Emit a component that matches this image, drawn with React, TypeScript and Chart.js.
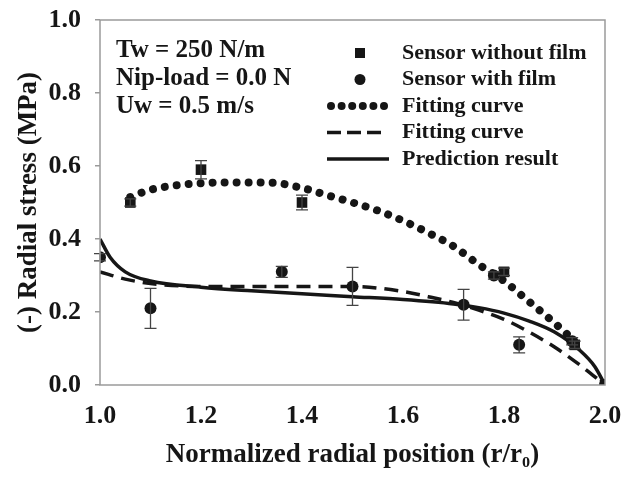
import React, { useEffect, useRef } from "react";
import { Chart, registerables } from "chart.js";
Chart.register(...registerables);

// Sensor without film (squares)
const sqX = [1.06, 1.2, 1.4, 1.8, 1.94, 2.0];
const sqY = [0.50, 0.59, 0.50, 0.31, 0.11, 0.0];
const sqErr = [0.01, 0.025, 0.02, 0.01, 0.01, 0];
// Sensor with film (circles)
const ciX = [1.0, 1.1, 1.36, 1.5, 1.72, 1.78, 1.83, 1.935, 2.0];
const ciY = [0.35, 0.21, 0.31, 0.27, 0.22, 0.30, 0.11, 0.12, 0.0];
const ciErr = [0.01, 0.055, 0.015, 0.052, 0.042, 0.01, 0.022, 0.01, 0];
// Fitting curve (dotted, without film)
const dotX = [1.06, 1.1, 1.15, 1.2, 1.25, 1.3, 1.35, 1.4, 1.45, 1.5, 1.55, 1.6, 1.65, 1.7, 1.75, 1.8, 1.85, 1.9, 1.94];
const dotY = [0.515, 0.535, 0.547, 0.553, 0.555, 0.555, 0.553, 0.54, 0.52, 0.50, 0.478, 0.45, 0.417, 0.38, 0.33, 0.285, 0.228, 0.17, 0.12];
// Fitting curve (dashed, with film)
const dashX = [1.0, 1.05, 1.1, 1.2, 1.3, 1.4, 1.5, 1.6, 1.65, 1.7, 1.75, 1.8, 1.85, 1.9, 1.95, 2.0];
const dashY = [0.31, 0.29, 0.278, 0.27, 0.27, 0.27, 0.27, 0.256, 0.242, 0.226, 0.205, 0.18, 0.145, 0.104, 0.055, 0.0];
// Prediction result (solid)
const predX = [1.0, 1.02, 1.05, 1.1, 1.2, 1.3, 1.4, 1.5, 1.6, 1.7, 1.75, 1.8, 1.85, 1.9, 1.95, 1.98, 2.0];
const predY = [0.40, 0.35, 0.31, 0.285, 0.268, 0.258, 0.25, 0.242, 0.234, 0.222, 0.212, 0.197, 0.175, 0.145, 0.095, 0.05, 0.0];

const annotations = ["Tw = 250 N/m", "Nip-load = 0.0 N", "Uw = 0.5 m/s"];
const legendLabels = ["Sensor without film", "Sensor with film", "Fitting curve", "Fitting curve", "Prediction result"];

const INK = "#161616";
const FRAME = "#9a9a9a";
const SERIF = '"Liberation Serif", "Times New Roman", serif';

const pts = (xs: number[], ys: number[]) => xs.map((x, i) => ({ x, y: ys[i] }));

const errorBarPlugin = {
  id: "errorBars",
  afterDatasetsDraw(chart: any) {
    const { ctx, scales } = chart;
    const xs = scales.x, ys = scales.y;
    ctx.save();
    ctx.strokeStyle = "#444";
    ctx.lineWidth = 1.3;
    const draw = (X: number[], Y: number[], E: number[]) => {
      X.forEach((x, i) => {
        if (!E[i]) return;
        const px = xs.getPixelForValue(x);
        const top = ys.getPixelForValue(Y[i] + E[i]);
        const bot = ys.getPixelForValue(Y[i] - E[i]);
        ctx.beginPath();
        ctx.moveTo(px, top); ctx.lineTo(px, bot);
        ctx.moveTo(px - 6, top); ctx.lineTo(px + 6, top);
        ctx.moveTo(px - 6, bot); ctx.lineTo(px + 6, bot);
        ctx.stroke();
      });
    };
    draw(sqX, sqY, sqErr);
    draw(ciX, ciY, ciErr);
    ctx.restore();
  },
};

const framePlugin = {
  id: "frame",
  afterDraw(chart: any) {
    const { ctx, chartArea: a } = chart;
    ctx.save();
    ctx.strokeStyle = FRAME;
    ctx.lineWidth = 1.5;
    ctx.strokeRect(a.left, a.top, a.right - a.left, a.bottom - a.top);
    ctx.restore();
  },
};

const legendPlugin = {
  id: "customLegend",
  afterDraw(chart: any) {
    const ctx = chart.ctx;
    ctx.save();
    ctx.fillStyle = INK;
    ctx.strokeStyle = INK;
    ctx.textBaseline = "middle";
    ctx.textAlign = "left";
    ctx.font = `bold 25px ${SERIF}`;
    const aRows = [51, 79, 107];
    annotations.forEach((t, i) => ctx.fillText(t, 116, aRows[i]));
    ctx.font = `bold 22px ${SERIF}`;
    const rows = [53, 79.5, 106, 132.5, 159];
    legendLabels.forEach((t, i) => ctx.fillText(t, 402, rows[i]));
    // square
    ctx.fillRect(355, rows[0] - 5, 10, 10);
    // circle
    ctx.beginPath(); ctx.arc(360, rows[1], 5.5, 0, Math.PI * 2); ctx.fill();
    // dotted
    for (let k = 0; k < 6; k++) {
      ctx.beginPath(); ctx.arc(331 + k * 10.6, rows[2], 4, 0, Math.PI * 2); ctx.fill();
    }
    // dashed
    ctx.lineWidth = 3.5;
    ctx.setLineDash([14, 6]);
    ctx.beginPath(); ctx.moveTo(327, rows[3]); ctx.lineTo(383, rows[3]); ctx.stroke();
    // solid
    ctx.setLineDash([]);
    ctx.lineWidth = 3.5;
    ctx.beginPath(); ctx.moveTo(327, rows[4]); ctx.lineTo(389, rows[4]); ctx.stroke();
    ctx.restore();
  },
};

const resetPad = (s: any) => {
  s.paddingTop = 0; s.paddingBottom = 0; s.paddingLeft = 0; s.paddingRight = 0;
};

export default function App() {
  const ref = useRef<HTMLCanvasElement | null>(null);
  useEffect(() => {
    if (!ref.current) return;
    const chart = new Chart(ref.current, {
      type: "scatter",
      data: {
        datasets: [
          {
            label: "Sensor without film",
            data: pts(sqX, sqY),
            pointStyle: "rect",
            pointRadius: 7.5,
            backgroundColor: INK,
            borderColor: INK,
            borderWidth: 0,
          },
          {
            label: "Sensor with film",
            data: pts(ciX, ciY),
            pointStyle: "circle",
            pointRadius: 6,
            backgroundColor: INK,
            borderColor: INK,
            borderWidth: 0,
          },
          {
            label: "Fitting curve",
            data: pts(dotX, dotY),
            showLine: true,
            pointRadius: 0,
            borderColor: INK,
            borderWidth: 8,
            borderCapStyle: "round",
            borderDash: [0.01, 12],
            cubicInterpolationMode: "monotone",
          },
          {
            label: "Fitting curve",
            data: pts(dashX, dashY),
            showLine: true,
            pointRadius: 0,
            borderColor: INK,
            borderWidth: 3.5,
            borderDash: [14, 8],
            cubicInterpolationMode: "monotone",
          },
          {
            label: "Prediction result",
            data: pts(predX, predY),
            showLine: true,
            pointRadius: 0,
            borderColor: INK,
            borderWidth: 3.5,
            cubicInterpolationMode: "monotone",
          },
        ],
      },
      options: {
        animation: false,
        responsive: true,
        maintainAspectRatio: false,
        layout: { padding: { top: 20, right: 21, left: 0, bottom: 0 } },
        plugins: { legend: { display: false }, tooltip: { enabled: false } },
        scales: {
          x: {
            type: "linear",
            min: 1,
            max: 2,
            afterFit: (s: any) => { s.height = 92; resetPad(s); },
            ticks: {
              stepSize: 0.2,
              callback: (v: any) => Number(v).toFixed(1),
              font: { family: SERIF, size: 26, weight: "bold" },
              color: INK,
              padding: 16,
              maxRotation: 0,
            },
            grid: { display: false, drawTicks: false },
            border: { display: false },
            title: {
              display: true,
              text: "Normalized radial position (r/r₀)",
              font: { family: SERIF, size: 27, weight: "bold" },
              color: INK,
              padding: { top: 0, bottom: 6 },
            },
          },
          y: {
            min: 0,
            max: 1,
            afterFit: (s: any) => { s.width = 100; resetPad(s); },
            ticks: {
              stepSize: 0.2,
              callback: (v: any) => Number(v).toFixed(1),
              font: { family: SERIF, size: 26, weight: "bold" },
              color: INK,
              padding: 14,
            },
            grid: { drawOnChartArea: false, drawTicks: true, tickLength: 5, color: FRAME, lineWidth: 1.5 },
            border: { display: false },
            title: {
              display: true,
              text: "(-) Radial stress (MPa)",
              font: { family: SERIF, size: 27, weight: "bold" },
              color: INK,
              padding: { top: 13, bottom: 0 },
            },
          },
        },
      },
      plugins: [errorBarPlugin, framePlugin, legendPlugin],
    });
    return () => chart.destroy();
  }, []);
  return (
    <div style={{ position: "absolute", left: 0, top: 0, width: 626, height: 477, background: "#fff" }}>
      <canvas ref={ref} />
    </div>
  );
}
